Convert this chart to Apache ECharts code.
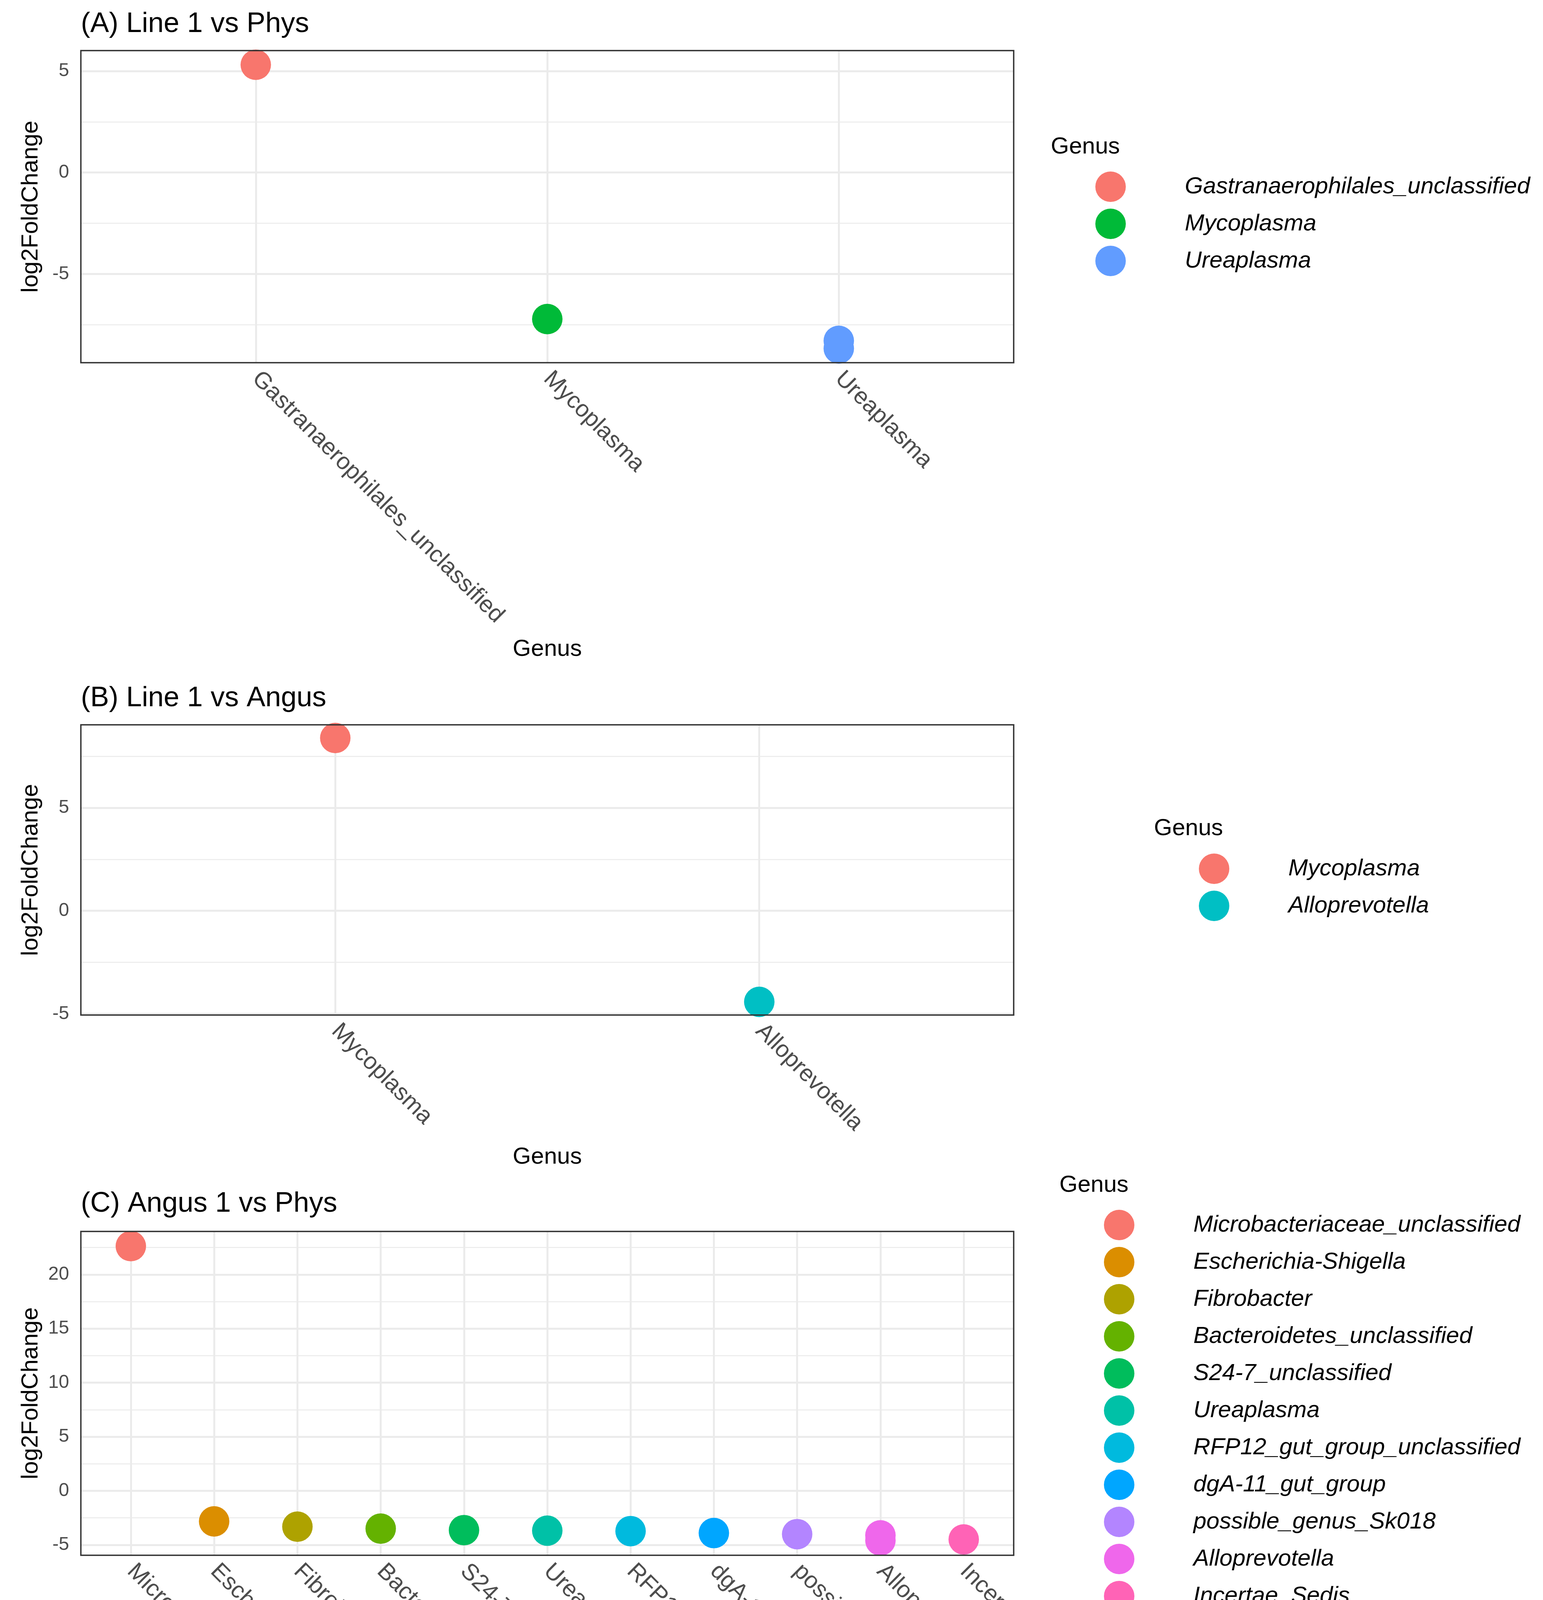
<!DOCTYPE html>
<html>
<head>
<meta charset="utf-8">
<title>log2FoldChange by Genus</title>
<script src="https://cdn.jsdelivr.net/npm/echarts@6/dist/echarts.min.js"></script>
<style>
  html, body { margin: 0; padding: 0; background: #fff; }
  #chart { width: 3950px; height: 4741px; }
</style>
</head>
<body>
<div id="chart"></div>
<script>
// ---- data ----
const genusA = ['Gastranaerophilales_unclassified', 'Mycoplasma', 'Ureaplasma'];
const lfcA = [[5.31], [-7.22], [-8.29, -8.67]];
const ticksA = [-5, 0, 5];
const minorA = [-7.5, -2.5, 2.5];

const genusB = ['Mycoplasma', 'Alloprevotella'];
const lfcB = [[8.39], [-4.42]];
const ticksB = [-5, 0, 5];
const minorB = [-2.5, 2.5, 7.5];

const genusC = [
  'Microbacteriaceae_unclassified', 'Escherichia-Shigella', 'Fibrobacter',
  'Bacteroidetes_unclassified', 'S24-7_unclassified', 'Ureaplasma',
  'RFP12_gut_group_unclassified', 'dgA-11_gut_group', 'possible_genus_Sk018',
  'Alloprevotella', 'Incertae_Sedis'
];
const lfcC = [[22.63], [-2.83], [-3.32], [-3.50], [-3.64], [-3.69], [-3.73], [-3.91], [-4.01], [-4.12, -4.60], [-4.50]];
const ticksC = [-5, 0, 5, 10, 15, 20];
const minorC = [-2.5, 2.5, 7.5, 12.5, 17.5, 22.5];

// ggplot hue palettes
const colorsA = ['#F8766D', '#00BA38', '#619CFF'];
const colorsB = ['#F8766D', '#00BFC4'];
const colorsC = ['#F8766D', '#DB8E00', '#AEA200', '#64B200', '#00BD5C', '#00C1A7',
  '#00BADE', '#00A6FF', '#B385FF', '#EF67EB', '#FF63B6'];

const FONT = '"Liberation Sans", Arial, Helvetica, sans-serif';

// ---- layout of the three panels ----
const panels = [
  {
    key: 'A', title: '(A) Line 1 vs Phys', genus: genusA, lfc: lfcA, colors: colorsA,
    ticks: ticksA, minor: minorA,
    grid: { left: 207, top: 129.5, width: 2388, height: 799 },
    titleTop: 26, xNameGap: 704,
    legend: { left: 2804, top: 439 }, legendTitle: { left: 2690, top: 346 }
  },
  {
    key: 'B', title: '(B) Line 1 vs Angus', genus: genusB, lfc: lfcB, colors: colorsB,
    ticks: ticksB, minor: minorB,
    grid: { left: 207, top: 1855.5, width: 2388, height: 743 },
    titleTop: 1752, xNameGap: 334,
    legend: { left: 3069, top: 2185 }, legendTitle: { left: 2954, top: 2091 }
  },
  {
    key: 'C', title: '(C) Angus 1 vs Phys', genus: genusC, lfc: lfcC, colors: colorsC,
    ticks: ticksC, minor: minorC,
    grid: { left: 207, top: 3152.4, width: 2388, height: 829 },
    titleTop: 3046, xNameGap: 674,
    legend: { left: 2826, top: 3097 }, legendTitle: { left: 2712, top: 3004 }
  }
];

// ggplot default 5% expansion of the continuous axis
function yRange(lfc) {
  const all = [].concat.apply([], lfc);
  const lo = Math.min.apply(null, all), hi = Math.max.apply(null, all);
  const pad = (hi - lo) * 0.05;
  return [lo - pad, hi + pad];
}

const titles = [], grids = [], xAxes = [], yAxes = [], legends = [], series = [];

panels.forEach(function (p, k) {
  const n = p.genus.length;
  const idx = p.genus.map(function (g, i) { return i; });
  const yr = yRange(p.lfc);

  titles.push({
    text: p.title, left: p.grid.left, top: p.titleTop, padding: 0,
    textStyle: { fontFamily: FONT, fontSize: 72, lineHeight: 72, fontWeight: 'normal', color: '#000' }
  });
  titles.push({
    text: 'Genus', left: p.legendTitle.left, top: p.legendTitle.top, padding: 0,
    textStyle: { fontFamily: FONT, fontSize: 60, lineHeight: 60, fontWeight: 'normal', color: '#000' }
  });

  grids.push({
    left: p.grid.left, top: p.grid.top, width: p.grid.width, height: p.grid.height,
    show: true, z: 10, backgroundColor: 'rgba(0,0,0,0)',
    borderColor: '#333333', borderWidth: 3.5, containLabel: false
  });

  xAxes.push({
    type: 'value', gridIndex: k, min: -0.6, max: n - 1 + 0.6,
    name: 'Genus', nameLocation: 'middle', nameGap: p.xNameGap,
    nameTextStyle: { fontFamily: FONT, fontSize: 60, lineHeight: 60, color: '#000' },
    axisLine: { show: false },
    splitLine: { show: false },
    axisTick: { show: true, length: 16, customValues: idx, lineStyle: { color: '#333333', width: 4.5 } },
    axisLabel: {
      customValues: idx, rotate: -45, margin: 32,
      fontFamily: FONT, fontSize: 60, lineHeight: 60, color: '#4D4D4D',
      formatter: function (v) { return p.genus[Math.round(v)]; }
    }
  });

  yAxes.push({
    type: 'value', gridIndex: k, min: yr[0], max: yr[1],
    name: 'log2FoldChange', nameLocation: 'middle', nameGap: 98, nameRotate: 90,
    nameTextStyle: { fontFamily: FONT, fontSize: 60, lineHeight: 60, color: '#000' },
    axisLine: { show: false },
    splitLine: { show: false },
    axisTick: { show: true, length: 16, customValues: p.ticks, lineStyle: { color: '#333333', width: 4.5 } },
    axisLabel: {
      customValues: p.ticks, margin: 30,
      fontFamily: FONT, fontSize: 48, color: '#4D4D4D',
      formatter: function (v) { return String(v); }
    }
  });

  // panel grid lines (major + minor), drawn through the axes
  const gridLines = [];
  p.minor.forEach(function (v) {
    gridLines.push({ yAxis: v, lineStyle: { color: '#EBEBEB', width: 2.5, type: 'solid' } });
  });
  p.ticks.forEach(function (v) {
    gridLines.push({ yAxis: v, lineStyle: { color: '#EBEBEB', width: 5, type: 'solid' } });
  });
  idx.forEach(function (i) {
    gridLines.push({ xAxis: i, lineStyle: { color: '#EBEBEB', width: 5, type: 'solid' } });
  });
  series.push({
    type: 'scatter', name: p.key + '|grid', xAxisIndex: k, yAxisIndex: k,
    data: [], silent: true, z: 1,
    markLine: {
      silent: true, z: 1, symbol: ['none', 'none'], animation: false,
      label: { show: false }, emphasis: { disabled: true },
      data: gridLines
    }
  });

  const legendNames = [];
  p.genus.forEach(function (g, i) {
    const name = p.key + '|' + g;
    legendNames.push(name);
    series.push({
      type: 'scatter', name: name, xAxisIndex: k, yAxisIndex: k,
      symbol: 'circle', symbolSize: 78, z: 3, clip: true,
      itemStyle: { color: p.colors[i], opacity: 1 },
      emphasis: { disabled: true },
      data: p.lfc[i].map(function (v) { return [i, v]; })
    });
  });

  legends.push({
    orient: 'vertical', left: p.legend.left, top: p.legend.top, padding: 0,
    itemWidth: 370, itemHeight: 78, itemGap: 17, icon: 'circle',
    selectedMode: false, data: legendNames,
    formatter: function (name) { return name.split('|')[1]; },
    textStyle: { fontFamily: FONT, fontSize: 60, fontStyle: 'italic', color: '#000' }
  });
});

const chart = echarts.init(document.getElementById('chart'), null, { renderer: 'canvas' });
chart.setOption({
  backgroundColor: '#ffffff',
  animation: false,
  title: titles,
  grid: grids,
  xAxis: xAxes,
  yAxis: yAxes,
  legend: legends,
  series: series
});
window.addEventListener('resize', function () { chart.resize(); });
</script>
</body>
</html>
